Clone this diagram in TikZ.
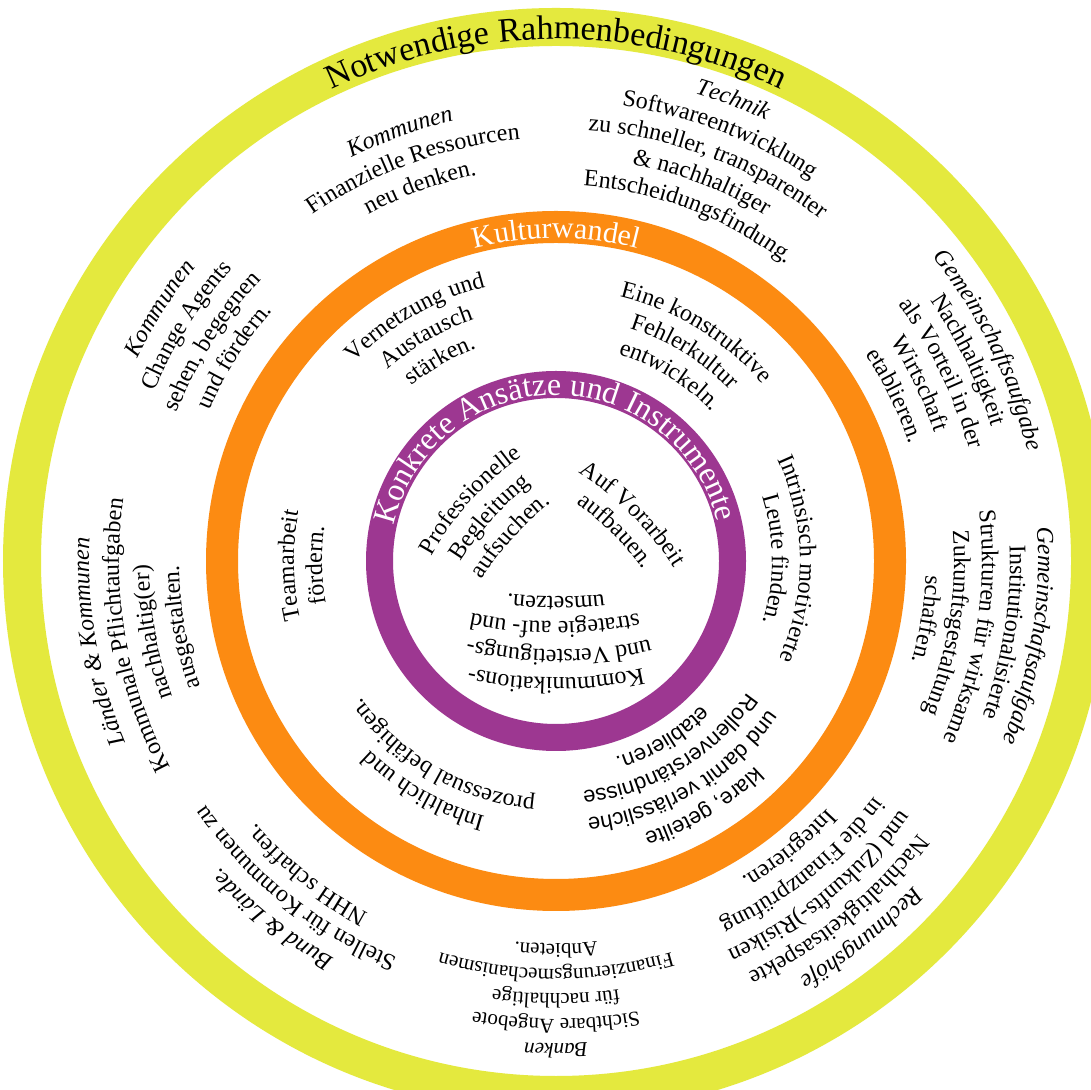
\documentclass[tikz,border=0pt]{standalone}
\usepackage{fontspec}
\setmainfont{Liberation Serif}
\newfontfamily\sansf{Liberation Sans}
\usetikzlibrary{decorations.text}
\definecolor{ringyellow}{RGB}{228,233,62}
\definecolor{ringorange}{RGB}{252,139,18}
\definecolor{ringpurple}{RGB}{157,55,145}
\newcommand\myfs[1]{\fontsize{#1}{#1}\selectfont}
% text line on an arc: x y (relative to centre), rotation, curvature radius, format, text
\newcommand\tlinexy[6]{%
 \pgfmathsetmacro\tqx{#1-(#4)*cos(#3+90)}%
 \pgfmathsetmacro\tqy{#2-(#4)*sin(#3+90)}%
 \pgfmathsetmacro\tda{min(175,330/(#4)*57.2958)}%
 \pgfmathsetmacro\tsa{#3+90+\tda}%
 \pgfmathsetmacro\tea{#3+90-\tda}%
 \pgfmathsetmacro\tsx{\tqx+(#4)*cos(\tsa)}%
 \pgfmathsetmacro\tsy{\tqy+(#4)*sin(\tsa)}%
 \path[decorate,decoration={text along path,text align=center,text={|\myfs{24}#5|#6}}]
   (\tsx,\tsy) arc[start angle=\tsa,end angle=\tea,radius=#4];%
}
% concentric line: angle, radius, format, text
\newcommand\tline[4]{%
 \pgfmathsetmacro\tpx{(#2)*cos(#1)}%
 \pgfmathsetmacro\tpy{(#2)*sin(#1)}%
 \pgfmathsetmacro\tph{#1-90}%
 \tlinexy{\tpx}{\tpy}{\tph}{#2}{#3}{#4}%
}
\tikzset{ring/.style={line width=#1}}
\begin{document}
\begin{tikzpicture}[x=1pt,y=1pt]
\useasboundingbox (0,0) rectangle (1091,1089);
\fill[white] (0,0) rectangle (1091,1089);
\begin{scope}[shift={(556,528)}]
% rings
\draw[ring=38pt, ringyellow] (0,0) circle (534);
\draw[ring=32pt, ringorange] (0,0) circle (334);
\draw[ring=27pt, ringpurple] (0,0) circle (176.5);
% ring titles
\tline{90}{522}{\myfs{34}}{Notwendige Rahmenbedingungen}
\tline{90}{323}{\myfs{30}\color{white}}{Kulturwandel}
\tline{90.5}{166}{\myfs{32}\color{white}}{Konkrete Ansätze und Instrumente}
% outer ring: Kommunen (top left)
\tline{110}{452}{\itshape}{Kommunen}
\tline{110}{423}{}{Finanzielle Ressourcen}
\tline{110}{394}{}{neu denken.}
% Technik
\tline{69}{488}{\itshape}{Technik}
\tline{69}{460}{}{Softwareentwicklung}
\tline{69}{432}{}{zu schneller, transparenter}
\tline{69}{404}{}{{\&} nachhaltiger}
\tline{69}{376}{}{Entscheidungsfindung.}
% Kommunen (left upper)
\tline{147.5}{465}{\itshape}{Kommunen}
\tline{147.5}{436}{}{Change Agents}
\tline{147.5}{407}{}{sehen, begegnen}
\tline{147.5}{378}{}{und fördern.}
% Laender & Kommunen
\tline{190}{467}{\itshape}{Länder {\&} Kommunen}
\tline{190}{437}{}{Kommunale Pflichtaufgaben}
\tline{190}{407}{}{nachhaltig(er)}
\tline{190}{377}{}{ausgestalten.}
% Bund & Laender
\tline{231.5}{455}{\itshape}{Bund {\&} Lände.}
\tline{231.5}{427}{}{Stellen für Kommunen zu}
\tline{231.5}{399}{}{NHH schaffen.}
% Banken
\tline{270}{483}{\myfs{21}\itshape}{Banken}
\tline{270}{458}{\myfs{21}}{Sichtbare Angebote}
\tline{270}{433}{\myfs{21}}{für nachhaltige}
\tline{270}{408}{\myfs{21}}{Finanzierungsmechanismen}
\tline{270}{383}{\myfs{21}}{Anbieten.}
% Rechnungshoefe
\tline{309}{483}{\itshape}{Rechnungshöfe}
\tline{309}{454}{}{Nachhaltigkeitsaspekte}
\tline{309}{425}{}{und (Zukunfts-)Risiken}
\tline{309}{396}{}{in die Finanzprüfung}
\tline{309}{367}{}{Integrieren.}
% Gemeinschaftsaufgabe (upper right)
\tline{26}{484}{\itshape}{Gemeinschaftsaufgabe}
\tline{26}{456}{}{Nachhaltigkeit}
\tline{26}{428}{}{als Vorteil in der}
\tline{26}{400}{}{Wirtschaft}
\tline{26}{372}{}{etablieren.}
% Gemeinschaftsaufgabe (right)
\tline{351}{482}{\itshape}{Gemeinschaftsaufgabe}
\tline{351}{454}{}{Institutionalisierte}
\tline{351}{426}{}{Strukturen für wirksame}
\tline{351}{398}{}{Zukunftsgestaltung}
\tline{351}{370}{}{schaffen.}
% middle ring
\tline{120}{283}{}{Vernetzung und}
\tline{120}{255}{}{Austausch}
\tline{120}{227}{}{stärken.}
\tline{58.5}{272}{}{Eine konstruktive}
\tline{58.5}{244}{}{Fehlerkultur}
\tline{58.5}{216}{}{entwickeln.}
\tline{0.5}{244}{}{Intrinsisch motivierte}
\tline{0.5}{216}{}{Leute finden.}
\tline{181}{262}{}{Teamarbeit}
\tline{181}{234}{}{fördern.}
\tline{240}{265}{}{Inhaltlich und}
\tline{240}{238}{}{prozessual befähigen.}
\tline{301}{286}{\sansf\myfs{22}}{klare, geteilte}
\tline{301}{259}{\sansf\myfs{22}}{und damit verlässliche}
\tline{301}{232}{\sansf\myfs{22}}{Rollenverständnisse}
\tline{301}{205}{\sansf\myfs{22}}{etablieren.}
% inside purple
\tlinexy{-84.6}{60.0}{48}{300}{}{Professionelle}
\tlinexy{-63.7}{41.3}{48}{300}{}{Begleitung}
\tlinexy{-42.9}{22.5}{48}{300}{}{aufsuchen.}
\tlinexy{75.6}{46.0}{-45}{300}{}{Auf Vorarbeit}
\tlinexy{56.5}{26.9}{-45}{300}{}{aufbauen.}
\tlinexy{0}{-117}{180}{400}{}{Kommunikations-}
\tlinexy{3}{-89}{180}{400}{}{und Verstetigungs-}
\tlinexy{-1}{-61}{180}{400}{}{strategie auf- und}
\tlinexy{0}{-36}{180}{400}{}{umsetzen.}
\end{scope}
\end{tikzpicture}
\end{document}
